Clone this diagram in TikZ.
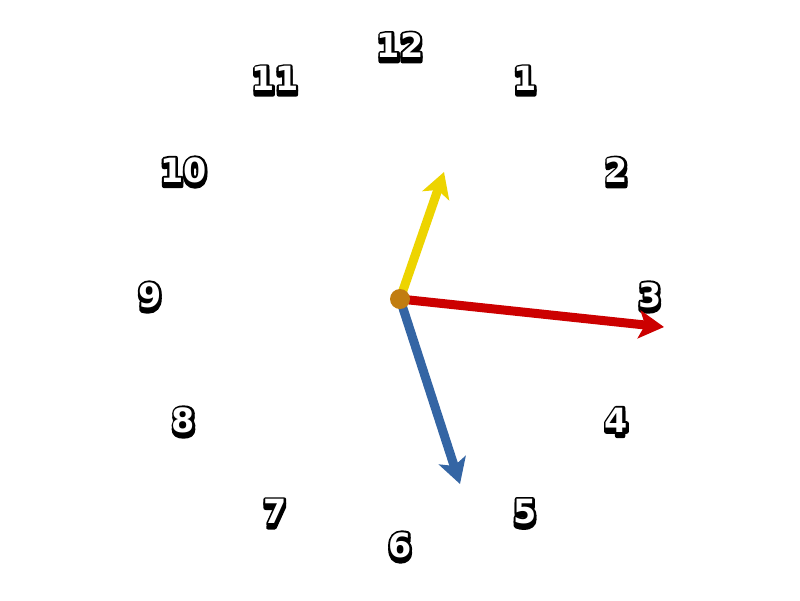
\documentclass[tikz,border=0pt]{standalone}
\usepackage{fontspec}
\setmainfont{DejaVu Sans}
\usetikzlibrary{arrows.meta}
\definecolor{hourc}{HTML}{EDD400}
\definecolor{secc}{HTML}{CC0000}
\definecolor{minc}{HTML}{3465A4}
\definecolor{dotc}{HTML}{C17D11}
\tikzset{
  numtxt/.style={inner sep=0pt, font=\fontsize{19}{19}\selectfont\bfseries},
  hand/.style={line width=9*0.02cm, -{Stealth[length=0.50cm,width=0.56cm,inset=0.12cm]}},
}
\newcommand\outl[1]{{\color{black}\special{pdf:literal 2 Tr 2.6 w 0 0 0 RG 1 j}#1\special{pdf:literal 0 Tr}}}
\newcommand\clknum[1]{\rlap{\raisebox{-2pt}{\outl{#1}}}\rlap{\outl{#1}}{\color{white}#1}}
\begin{document}
\begin{tikzpicture}[x=0.02cm,y=-0.02cm]
\useasboundingbox[fill=white] (0,0) rectangle (800,600);
\coordinate (c) at (400,299);
\foreach \k in {1,...,12}{
  \pgfmathsetmacro\px{400+250*sin(30*\k)}
  \pgfmathsetmacro\py{297-250*cos(30*\k)}
  \node[numtxt] (n\k) at (\px,\py) {\clknum{\k}};
}
\coordinate (hourtip) at (444,172);
\coordinate (mintip) at (460,484);
\coordinate (sectip) at (664,327);
\draw[hand, draw=minc, fill=minc] (c) -- (mintip);
\draw[hand, draw=hourc, fill=hourc] (c) -- (hourtip);
\draw[hand, draw=secc, fill=secc] (c) -- (sectip);
\node[circle, fill=dotc, minimum size=20*0.02cm, inner sep=0pt] (hub) at (c) {};
\end{tikzpicture}
\end{document}
